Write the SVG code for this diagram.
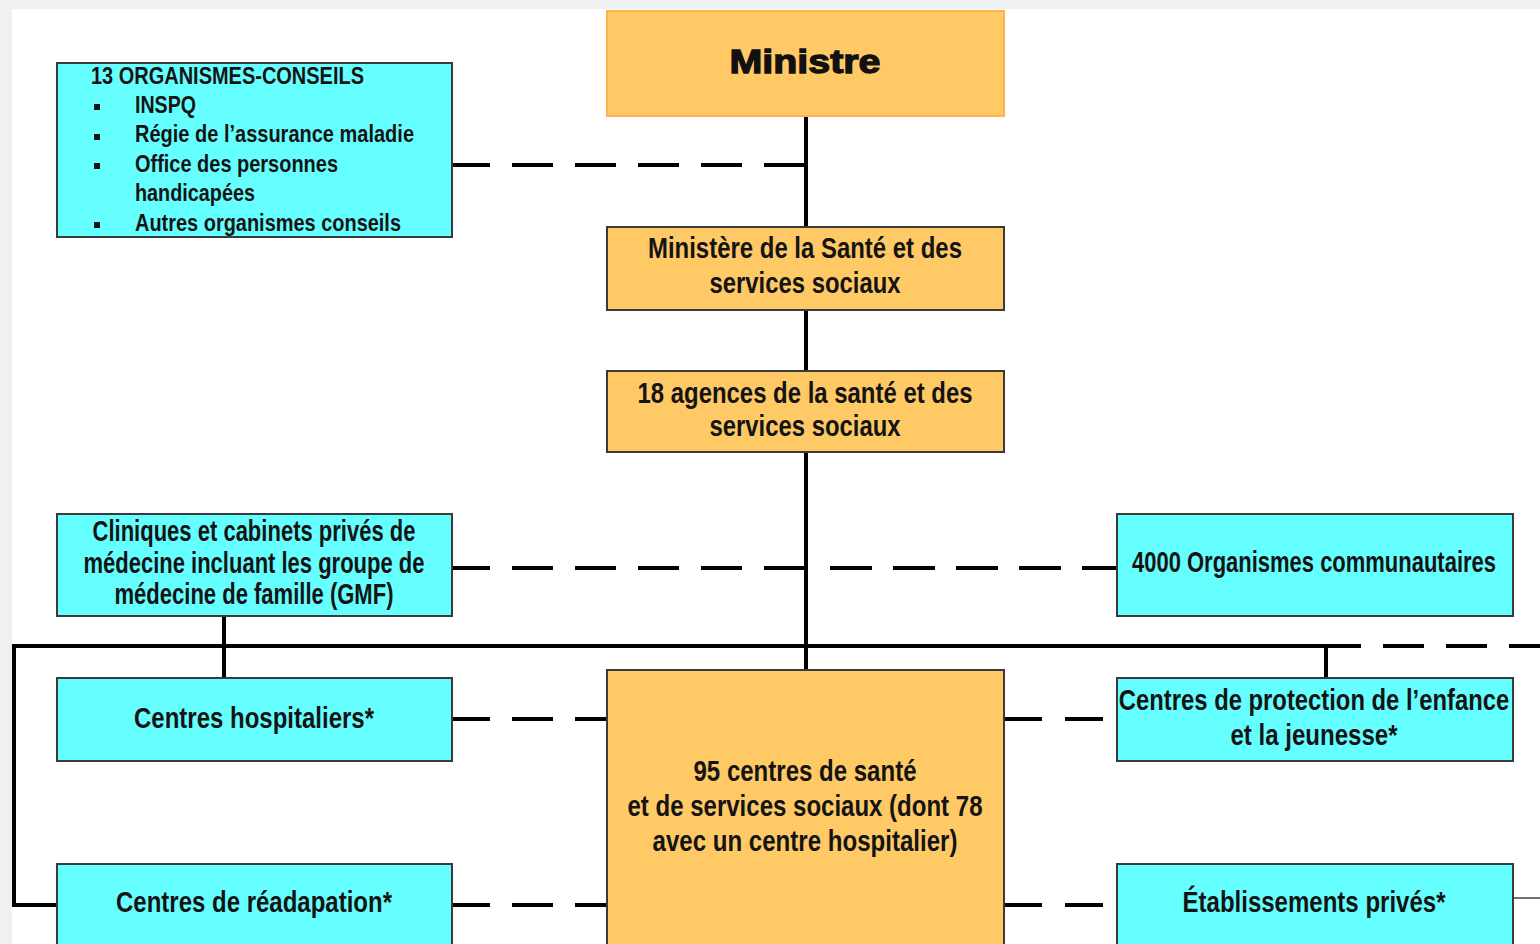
<svg xmlns="http://www.w3.org/2000/svg" width="1540" height="944" viewBox="0 0 1540 944">
<style>
.bg{fill:#eff1f0}
.cy{fill:#66ffff;stroke:#3a3a3a;stroke-width:2}
.or{fill:#ffc966;stroke:#3a3a3a;stroke-width:2}
.orl{fill:#ffc966;stroke:#ffb24d;stroke-width:2}
.t{font-family:"Liberation Sans",Arial,sans-serif;font-weight:bold;font-size:29px;fill:#141414;text-anchor:middle}
.tl{font-family:"Liberation Sans",Arial,sans-serif;font-weight:bold;font-size:24px;fill:#141414}
.big{font-family:"Liberation Sans",Arial,sans-serif;font-weight:900;font-size:34px;fill:#111;stroke:#111;stroke-width:1.3;text-anchor:middle}
.s{stroke:#000;stroke-width:4;fill:none}
.d{stroke:#000;stroke-width:4;fill:none;stroke-dasharray:41 22}
.thin{stroke:#444;stroke-width:1.5;fill:none}
</style>
<rect x="0" y="0" width="1540" height="944" fill="#ffffff"/>
<rect class="bg" x="0" y="0" width="1540" height="9"/>
<rect class="bg" x="0" y="0" width="12" height="944"/>

<g id="connectors">
  <line class="s" x1="806" y1="116" x2="806" y2="227"/>
  <line class="s" x1="806" y1="310" x2="806" y2="371"/>
  <line class="s" x1="806" y1="452" x2="806" y2="670"/>
  <line class="d" x1="452" y1="165" x2="806" y2="165" stroke-dashoffset="3"/>
  <line class="d" x1="452" y1="568" x2="806" y2="568" stroke-dashoffset="3"/>
  <line class="s" x1="830" y1="568" x2="1117" y2="568" style="stroke-dasharray:42 21"/>
  <polyline class="s" points="57,905 14,905 14,646 1326,646"/>
  <line class="d" x1="1320" y1="646" x2="1540" y2="646"/>
  <line class="s" x1="224" y1="616" x2="224" y2="678"/>
  <line class="s" x1="1326" y1="644" x2="1326" y2="678"/>
  <line class="d" x1="452" y1="719" x2="607" y2="719" stroke-dashoffset="3"/>
  <line class="d" x1="452" y1="905" x2="607" y2="905" stroke-dashoffset="3"/>
  <line class="s" x1="1004" y1="719" x2="1117" y2="719" style="stroke-dasharray:38 23"/>
  <line class="s" x1="1004" y1="905" x2="1117" y2="905" style="stroke-dasharray:38 23"/>
  <line class="thin" x1="1513" y1="898" x2="1540" y2="898"/>
</g>

<g id="ministre">
  <rect class="orl" x="607" y="11" width="397" height="105"/>
  <text class="big" x="805" y="73" textLength="151" lengthAdjust="spacingAndGlyphs">Ministre</text>
</g>

<g id="organismes-conseils">
  <rect class="cy" x="57" y="63" width="395" height="174"/>
  <text class="tl" x="91" y="84" textLength="273" lengthAdjust="spacingAndGlyphs">13 ORGANISMES-CONSEILS</text>
  <rect x="94" y="104" width="6" height="6" fill="#141414"/>
  <rect x="94" y="134" width="6" height="6" fill="#141414"/>
  <rect x="94" y="163" width="6" height="6" fill="#141414"/>
  <rect x="94" y="222" width="6" height="6" fill="#141414"/>
  <text class="tl" x="135" y="113" textLength="61" lengthAdjust="spacingAndGlyphs">INSPQ</text>
  <text class="tl" x="135" y="142" textLength="279" lengthAdjust="spacingAndGlyphs">Régie de l’assurance maladie</text>
  <text class="tl" x="135" y="172" textLength="203" lengthAdjust="spacingAndGlyphs">Office des personnes</text>
  <text class="tl" x="135" y="201" textLength="120" lengthAdjust="spacingAndGlyphs">handicapées</text>
  <text class="tl" x="135" y="231" textLength="266" lengthAdjust="spacingAndGlyphs">Autres organismes conseils</text>
</g>

<g id="ministere">
  <rect class="or" x="607" y="227" width="397" height="83"/>
  <text class="t" x="805" y="258" textLength="314" lengthAdjust="spacingAndGlyphs">Ministère de la Santé et des</text>
  <text class="t" x="805" y="293" textLength="191" lengthAdjust="spacingAndGlyphs">services sociaux</text>
</g>

<g id="agences">
  <rect class="or" x="607" y="371" width="397" height="81"/>
  <text class="t" x="805" y="403" textLength="335" lengthAdjust="spacingAndGlyphs">18 agences de la santé et des</text>
  <text class="t" x="805" y="436" textLength="191" lengthAdjust="spacingAndGlyphs">services sociaux</text>
</g>

<g id="cliniques">
  <rect class="cy" x="57" y="514" width="395" height="102"/>
  <text class="t" x="254" y="541" textLength="323" lengthAdjust="spacingAndGlyphs">Cliniques et cabinets privés de</text>
  <text class="t" x="254" y="573" textLength="341" lengthAdjust="spacingAndGlyphs">médecine incluant les groupe de</text>
  <text class="t" x="254" y="604" textLength="279" lengthAdjust="spacingAndGlyphs">médecine de famille (GMF)</text>
</g>

<g id="communautaires">
  <rect class="cy" x="1117" y="514" width="396" height="102"/>
  <text class="t" transform="translate(1314 572) scale(0.76 1)" x="0" y="0" textLength="479" lengthAdjust="spacingAndGlyphs">4000 Organismes communautaires</text>
</g>

<g id="hospitaliers">
  <rect class="cy" x="57" y="678" width="395" height="83"/>
  <text class="t" x="254" y="728" textLength="240" lengthAdjust="spacingAndGlyphs">Centres hospitaliers*</text>
</g>

<g id="csss">
  <rect class="or" x="607" y="670" width="397" height="290"/>
  <text class="t" x="805" y="781" textLength="223" lengthAdjust="spacingAndGlyphs">95 centres de santé</text>
  <text class="t" x="805" y="816" textLength="355" lengthAdjust="spacingAndGlyphs">et de services sociaux (dont 78</text>
  <text class="t" x="805" y="851" textLength="305" lengthAdjust="spacingAndGlyphs">avec un centre hospitalier)</text>
</g>

<g id="protection">
  <rect class="cy" x="1117" y="678" width="396" height="83"/>
  <text class="t" transform="translate(1314 710) scale(0.82 1)" x="0" y="0" textLength="476" lengthAdjust="spacingAndGlyphs">Centres de protection de l’enfance</text>
  <text class="t" x="1314" y="745" textLength="167" lengthAdjust="spacingAndGlyphs">et la jeunesse*</text>
</g>

<g id="readaptation">
  <rect class="cy" x="57" y="864" width="395" height="96"/>
  <text class="t" x="254" y="912" textLength="276" lengthAdjust="spacingAndGlyphs">Centres de réadapation*</text>
</g>

<g id="prives">
  <rect class="cy" x="1117" y="864" width="396" height="96"/>
  <text class="t" x="1314" y="912" textLength="263" lengthAdjust="spacingAndGlyphs">Établissements privés*</text>
</g>
</svg>
